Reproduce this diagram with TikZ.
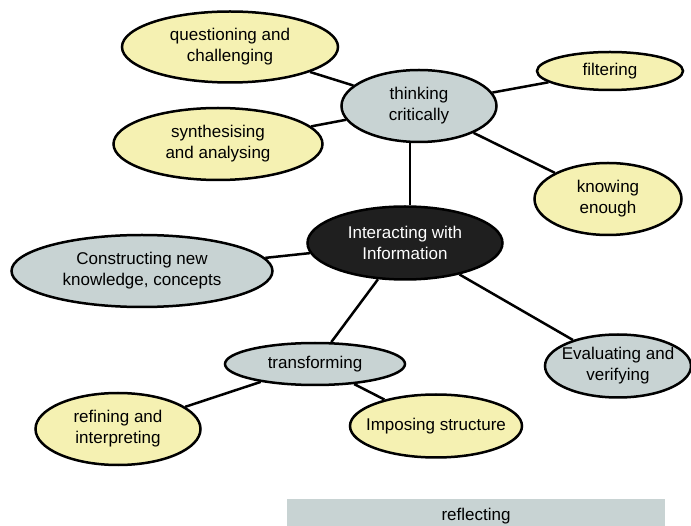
\documentclass[tikz,border=0pt]{standalone}
\usepackage{fontspec}
\setmainfont{Liberation Sans}
\usetikzlibrary{shapes.geometric}
\definecolor{paleyellow}{RGB}{245,241,178}
\definecolor{bluegrey}{RGB}{200,211,211}
\begin{document}
\begin{tikzpicture}[x=1pt,y=-1pt,
	every node/.style={font=\fontsize{17}{21}\selectfont,align=center},
	bubble/.style={ellipse,draw,line width=2.5pt,inner xsep=-40pt,inner ysep=-15pt},
	leaf/.style={bubble,fill=paleyellow},
	branch/.style={bubble,fill=bluegrey},
	core/.style={bubble,fill=black!88,text=white},
	link/.style={line width=2.5pt}]
\useasboundingbox (0,0) rectangle (691,526);
% centre
\node[core,minimum width=195pt,minimum height=73pt] (interact) at (405,243) {Interacting with\\Information};
% thinking critically and its leaves
\node[branch,minimum width=155pt,minimum height=72pt] (think) at (419,106) {thinking\\critically};
\node[leaf,minimum width=216pt,minimum height=71pt] (question) at (230,47) {questioning and\\challenging};
\node[leaf,minimum width=209pt,minimum height=72pt] (synth) at (218,144) {synthesising\\and analysing};
\node[leaf,minimum width=146pt,minimum height=38pt] (filter) at (610,71) {filtering};
\node[leaf,minimum width=147pt,minimum height=72pt] (enough) at (608,199) {knowing\\enough};
% other branches
\node[branch,minimum width=261pt,minimum height=72pt] (construct) at (142,271) {Constructing new\\knowledge, concepts};
\node[branch,minimum width=146pt,minimum height=63pt] (evaluate) at (618,366) {Evaluating and\\verifying};
\node[branch,minimum width=180pt,minimum height=42pt] (transform) at (315,364) {transforming};
\node[leaf,minimum width=165pt,minimum height=72pt] (refine) at (118,429) {refining and\\interpreting};
\node[leaf,minimum width=172pt,minimum height=63pt] (impose) at (436,426) {Imposing structure};
% bottom bar, cut by the page edge
\node[fill=bluegrey,minimum width=378pt,minimum height=34pt,inner sep=0pt] (reflect) at (476,516) {reflecting};

\draw[link] (question) -- (think);
\draw[link] (synth) -- (think);
\draw[link] (filter) -- (think);
\draw[link] (enough) -- (think);
\draw[link] ([xshift=-9pt]think.south) -- ([xshift=5pt]interact.north);
\draw[link] (construct) -- (interact);
\draw[link] (interact) -- (transform);
\draw[link] (interact) -- (evaluate);
\draw[link] (transform) -- (refine);
\draw[link] (transform) -- (impose);
\end{tikzpicture}
\end{document}
